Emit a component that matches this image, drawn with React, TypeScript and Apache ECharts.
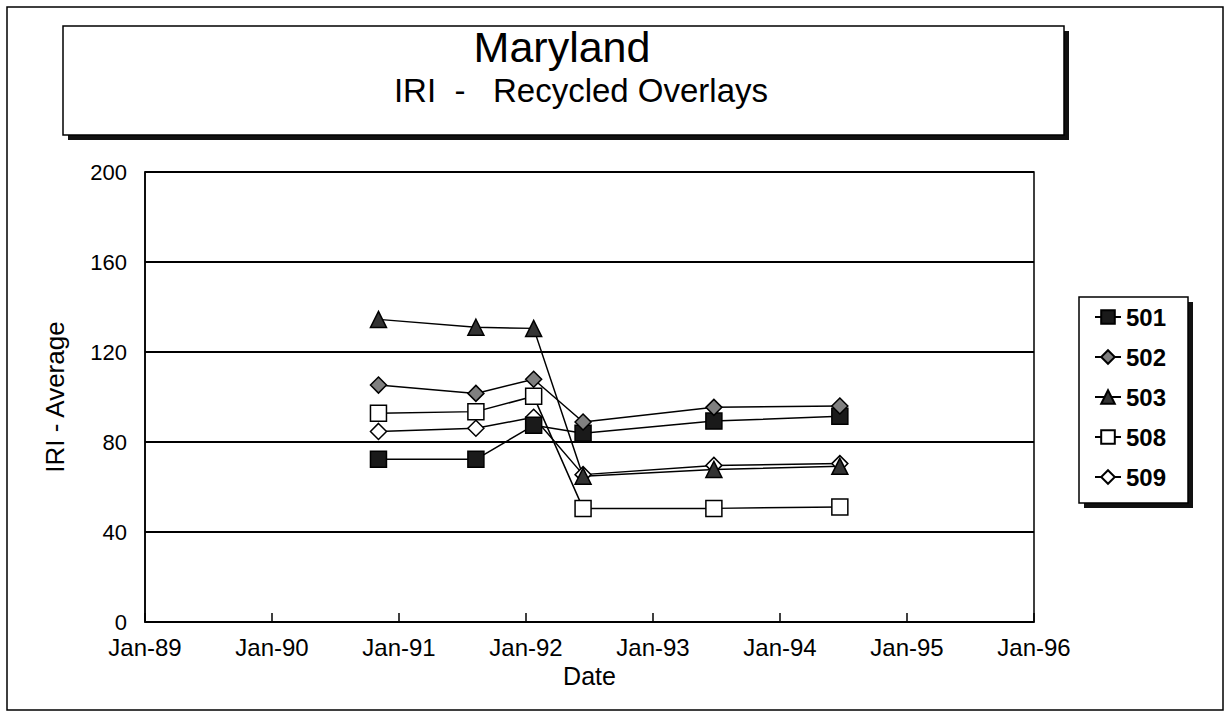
import React, { useEffect, useRef } from "react";
import * as echarts from "echarts";

// ---- data ----
const seriesNames = ["501", "502", "503", "508", "509"];
const surveyDates = ["1990-11-03", "1991-08-10", "1992-01-23", "1992-06-13", "1993-06-25", "1994-06-22"];
const s501 = [72.3, 72.3, 87.4, 83.9, 89.3, 91.4];
const s502 = [105.3, 101.6, 107.9, 88.9, 95.4, 96.0];
const s503 = [134.5, 131.0, 130.5, 64.8, 67.8, 69.2];
const s508 = [92.8, 93.5, 100.3, 50.5, 50.5, 51.1];
const s509 = [84.7, 86.1, 91.0, 65.5, 69.6, 70.4];
const xTickYears = [1989, 1990, 1991, 1992, 1993, 1994, 1995, 1996];
const yTicks = [0, 40, 80, 120, 160, 200];
const titleText = "Maryland";
const subtitleText = "IRI  -   Recycled Overlays";
const yAxisTitle = "IRI - Average";
const xAxisTitle = "Date";

const FONT = "'Liberation Sans', Arial, Helvetica, sans-serif";

function toYear(s: string): number {
  const [y, m, d] = s.split("-").map(Number);
  const start = Date.UTC(y, 0, 1);
  const t = Date.UTC(y, m - 1, d);
  return y + (t - start) / (365 * 86400000);
}

function pairs(vals: number[]): number[][] {
  return vals.map((v, i) => [toYear(surveyDates[i]), v]);
}

export default function App() {
  const ref = useRef<HTMLDivElement>(null);
  useEffect(() => {
    if (!ref.current) return;
    const chart = echarts.init(ref.current, null, { renderer: "svg" });
    const lineStyle = { color: "#000", width: 1.5 };
    const mk = (name: string, vals: number[], symbol: string, size: number, fill: string) => ({
      name,
      type: "line",
      data: pairs(vals),
      symbol,
      symbolSize: size,
      showSymbol: true,
      lineStyle,
      itemStyle: { color: fill, borderColor: "#000", borderWidth: 1.5 },
      emphasis: { disabled: true },
    });
    chart.setOption({
      animation: false,
      backgroundColor: "#fff",
      textStyle: { fontFamily: FONT },
      graphic: [
        {
          type: "rect",
          shape: { x: 7, y: 7, width: 1216, height: 703 },
          style: { fill: "none", stroke: "#000", lineWidth: 1.5 },
          silent: true,
        },
        {
          type: "rect",
          shape: { x: 68, y: 31, width: 1001, height: 109 },
          style: { fill: "#111" },
          silent: true,
        },
        {
          type: "rect",
          shape: { x: 63, y: 26, width: 1001, height: 109 },
          style: { fill: "#fff", stroke: "#000", lineWidth: 1.5 },
          silent: true,
        },
        {
          type: "text",
          x: 562,
          y: 47,
          style: {
            text: titleText,
            font: `normal 43px ${FONT}`,
            fill: "#000",
            textAlign: "center",
            textVerticalAlign: "middle",
          },
          silent: true,
        },
        {
          type: "text",
          x: 581,
          y: 90,
          style: {
            text: subtitleText,
            font: `normal 33px ${FONT}`,
            fill: "#000",
            textAlign: "center",
            textVerticalAlign: "middle",
          },
          silent: true,
        },
        {
          type: "rect",
          shape: { x: 1084, y: 302, width: 109, height: 206 },
          style: { fill: "#111" },
          silent: true,
          z: -1,
        },
        {
          type: "rect",
          shape: { x: 1079, y: 297, width: 109, height: 206 },
          style: { fill: "#fff", stroke: "#000", lineWidth: 1.5 },
          silent: true,
          z: -1,
        },
      ],
      grid: {
        left: 145,
        right: 1225 - 1034,
        top: 172,
        bottom: 711 - 622,
        show: true,
        borderColor: "#000",
        borderWidth: 1.5,
        backgroundColor: "transparent",
      },
      legend: {
        orient: "vertical",
        left: 1094,
        top: 305,
        itemWidth: 26,
        itemHeight: 17,
        itemGap: 16,
        padding: 0,
        data: seriesNames,
        textStyle: { fontSize: 24, fontWeight: "bold", color: "#000", fontFamily: FONT },
        selectedMode: false,
      },
      xAxis: {
        type: "value",
        min: xTickYears[0],
        max: xTickYears[xTickYears.length - 1],
        interval: 1,
        name: xAxisTitle,
        nameLocation: "middle",
        nameGap: 41,
        nameTextStyle: { fontSize: 25, color: "#000", fontFamily: FONT },
        axisLine: { lineStyle: { color: "#000", width: 1.5 } },
        axisTick: { show: true, inside: true, length: 9, lineStyle: { color: "#000", width: 1.5 } },
        axisLabel: {
          fontSize: 24,
          color: "#000",
          margin: 13,
          fontFamily: FONT,
          formatter: (v: number) => "Jan-" + String(Math.round(v)).slice(2),
        },
        splitLine: { show: false },
      },
      yAxis: {
        type: "value",
        min: yTicks[0],
        max: yTicks[yTicks.length - 1],
        interval: 40,
        name: yAxisTitle,
        nameLocation: "middle",
        nameRotate: 90,
        nameGap: 77,
        nameTextStyle: { fontSize: 26, color: "#000", fontFamily: FONT },
        axisLine: { show: true, lineStyle: { color: "#000", width: 1.5 } },
        axisTick: { show: false },
        axisLabel: { fontSize: 22, color: "#000", margin: 18, fontFamily: FONT },
        splitLine: { show: true, lineStyle: { color: "#000", width: 2 } },
      },
      series: [
        mk("509", s509, "diamond", 16, "#fff"),
        mk("508", s508, "rect", 16, "#fff"),
        mk("501", s501, "rect", 16, "#1a1a1a"),
        mk("503", s503, "triangle", 16, "#333"),
        mk("502", s502, "diamond", 16, "#808080"),
      ],
    });
    return () => chart.dispose();
  }, []);
  return (
    <div
      ref={ref}
      style={{ position: "absolute", left: 0, top: 0, width: 1225, height: 711, background: "#fff" }}
    />
  );
}
